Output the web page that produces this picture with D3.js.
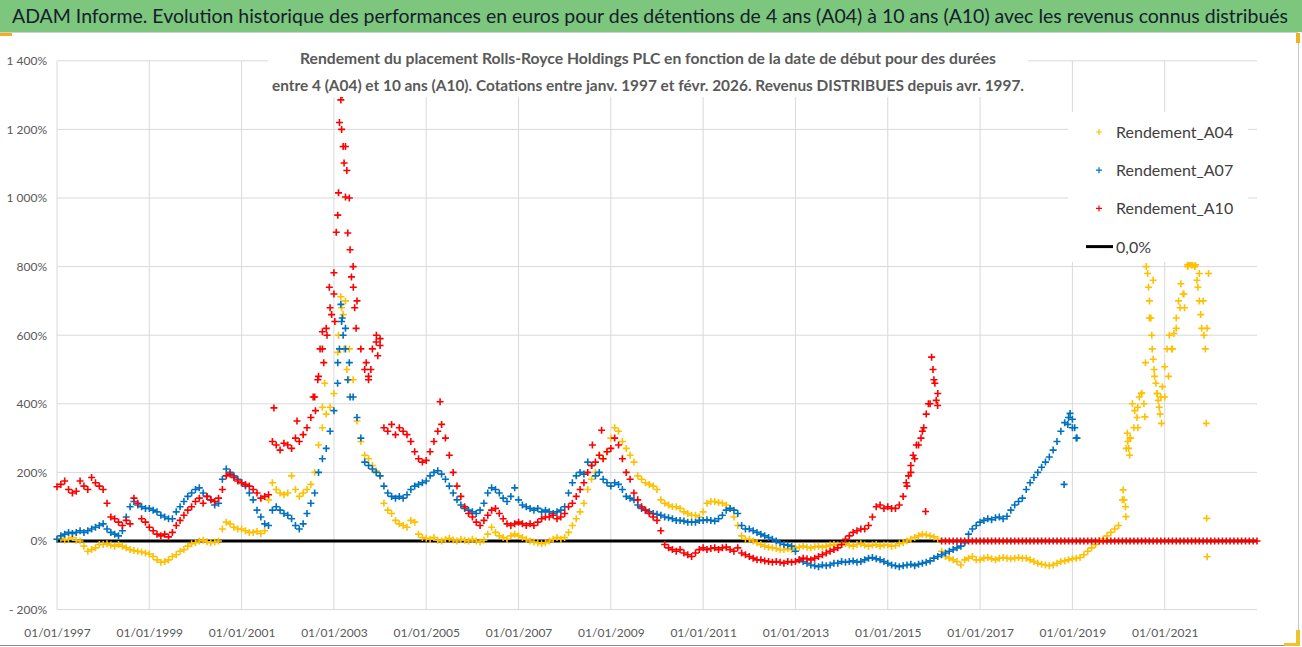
<!DOCTYPE html>
<html>
<head>
<meta charset="utf-8">
<script src="https://cdn.jsdelivr.net/npm/d3@7"></script>
<style>
  body { margin: 0; background: #fff; }
  text { font-family: Lato, "Open Sans", "DejaVu Sans", sans-serif; }
</style>
</head>
<body>
<div id="chart"></div>
<script>
// Monthly returns (%), first value = january 1997
const startYear = 1997;

const a04 = [
  5, 8, 3, 5, 10, 2, 0, -15, -30, -25, -20, -10,            // 1997
  -10, -8, -12, -15, -10, -15, -20, -25, -28, -30, -32, -35, // 1998
  -38, -45, -55, -62, -60, -55, -45, -40, -30, -25, -15, -8, // 1999
  -5, 0, 2, -2, -5, -3, 0, 35, 55, 50, 40, 35,               // 2000
  35, 30, 25, 25, 28, 22, 30, 120, 170, 150, 140, 135,       // 2001
  140, 190, 150, 130, 140, 150, 165, 200, 280, 330, 370, 390, // 2002
  430, 550, 680, 700, 560, 470, 350, 290, 250, 240, 220, 205, // 2003
  190, 110, 90, 80, 60, 50, 45, 40, 60, 55, 20, 10,          // 2004
  8, 5, 10, 2, 0, 5, 8, 3, 0, 5, 2, 0,                       // 2005
  5, 0, -3, 2, 20, 40, 25, 15, 10, 5, 15, 20,                // 2006
  15, 10, 5, 0, -3, -5, -8, -5, 0, 5, 10, 5,                 // 2007
  10, 25, 45, 65, 85, 110, 150, 180, 200, 250, 240, 260,     // 2008
  300, 330, 320, 290, 270, 250, 230, 190, 180, 170, 165, 160, // 2009
  150, 120, 110, 105, 100, 100, 95, 85, 80, 75, 75, 70,      // 2010
  85, 110, 115, 115, 112, 110, 105, 95, 70, 45, 15, 5,       // 2011
  5, 0, -5, -10, -15, -18, -20, -22, -25, -25, -22, -25,     // 2012
  -20, -18, -15, -18, -20, -17, -15, -18, -15, -12, -10, -12, // 2013
  -10, -8, -12, -15, -10, -8, -12, -15, -12, -10, -15, -12,  // 2014
  -12, -15, -13, -8, -5, 0, 5, 10, 15, 20, 18, 15,           // 2015
  12, 5, -30, -45, -50, -55, -60, -70, -55, -50, -45, -55,   // 2016
  -55, -50, -48, -52, -55, -50, -48, -50, -52, -50, -48, -50, // 2017
  -50, -55, -60, -65, -68, -70, -72, -70, -65, -60, -58, -55, // 2018
  -52, -50, -48, -40, -30, -20, -10, 0, 5, 15, 25, 35,       // 2019
  45, 120, 270, 300, 330, 390, 430, 520, 650, 760, 430, 420, // 2020
  420, 480, 560, 620, 680, 720, 800, 805, 805, 780, 700, 620 // 2021
];

const a07 = [
  5, 15, 20, 25, 22, 25, 30, 25, 30, 35, 40, 45,             // 1997
  50, 35, 25, 20, 15, 30, 70, 100, 115, 105, 100, 95,        // 1998
  95, 90, 85, 75, 70, 65, 65, 85, 100, 115, 130, 140,        // 1999
  150, 155, 140, 130, 120, 105, 110, 180, 210, 200, 190, 180, // 2000
  170, 160, 140, 120, 90, 70, 50, 45, 90, 100, 90, 80,       // 2001
  75, 65, 45, 35, 50, 80, 110, 140, 200, 240, 270, 320,      // 2002
  380, 520, 640, 620, 520, 420, 360, 300, 230, 220, 210, 200, // 2003
  190, 160, 140, 130, 125, 130, 125, 135, 150, 160, 165, 170, // 2004
  175, 190, 200, 205, 195, 180, 160, 140, 120, 105, 95, 90,  // 2005
  85, 80, 90, 110, 140, 155, 150, 140, 125, 115, 130, 155,   // 2006
  120, 105, 100, 95, 90, 95, 85, 90, 85, 80, 85, 90,         // 2007
  100, 140, 170, 190, 200, 195, 230, 220, 190, 200, 180, 170, // 2008
  160, 170, 165, 150, 130, 125, 120, 105, 95, 90, 85, 80,    // 2009
  78, 75, 70, 68, 65, 60, 60, 58, 55, 55, 55, 60,            // 2010
  60, 62, 60, 58, 65, 75, 90, 95, 90, 80, 45, 35,            // 2011
  35, 30, 25, 20, 15, 10, 5, 0, -5, -10, -12, -15,           // 2012
  -30, -55, -60, -65, -70, -72, -75, -70, -72, -70, -65, -65, // 2013
  -60, -62, -60, -58, -62, -60, -55, -50, -48, -52, -55, -60, // 2014
  -65, -70, -72, -75, -72, -70, -68, -72, -68, -65, -62, -58, // 2015
  -50, -45, -40, -35, -30, -25, -20, -15, -5, 20, 35, 45,    // 2016
  55, 60, 65, 62, 68, 70, 65, 72, 90, 105, 115, 125,         // 2017
  150, 170, 185, 200, 215, 230, 245, 265, 290, 320, 345, 360, // 2018
  330, 300                                                   // 2019
];

const a10 = [
  158, 165, 175, 150, 140, 145, 175, 160, 150, 185, 170, 160, // 1997
  150, 110, 70, 65, 55, 45, 60, 50, 125, 110, 65, 55,         // 1998
  40, 30, 20, 15, 20, 12, 25, 45, 60, 75, 90, 100,            // 1999
  115, 125, 110, 130, 120, 115, 125, 150, 190, 195, 185, 175, // 2000
  170, 165, 160, 150, 140, 125, 130, 135, 290, 280, 265, 285, // 2001
  280, 270, 300, 290, 310, 330, 360, 420, 480, 560, 620, 680, // 2002
  720, 950, 1200, 1150, 1000, 800, 700, 560, 500, 480, 560, 580, // 2003
  570, 330, 320, 340, 310, 330, 320, 310, 290, 260, 240, 230, // 2004
  235, 260, 290, 320, 340, 300, 250, 200, 160, 130, 100, 80,  // 2005
  70, 55, 45, 60, 75, 90, 95, 80, 65, 50, 45, 50,             // 2006
  55, 50, 45, 50, 45, 55, 65, 70, 70, 75, 65, 70,             // 2007
  80, 100, 110, 130, 150, 170, 200, 220, 230, 250, 240, 260,  // 2008
  270, 300, 280, 240, 200, 180, 140, 120, 100, 90, 80, 70,    // 2009
  60, 30, -10, -20, -25, -30, -25, -35, -40, -45, -35, -25,   // 2010
  -20, -25, -22, -20, -25, -20, -18, -25, -30, -20, -35, -40, // 2011
  -45, -50, -55, -55, -58, -60, -62, -60, -62, -65, -60, -62, // 2012
  -60, -55, -50, -52, -55, -50, -45, -40, -35, -30, -25, -20, // 2013
  -10, 5, 15, 25, 30, 35, 35, 45, 70, 100, 105, 95,           // 2014
  100, 95, 95, 105, 130, 160, 200, 240, 280, 320, 370, 400,   // 2015
  470, 430, 0, 0, 0, 0, 0, 0, 0, 0, 0, 0,                     // 2016
  0, 0, 0, 0, 0, 0, 0, 0, 0, 0, 0, 0,                         // 2017
  0, 0, 0, 0, 0, 0, 0, 0, 0, 0, 0, 0,                         // 2018
  0, 0, 0, 0, 0, 0, 0, 0, 0, 0, 0, 0,                         // 2019
  0, 0, 0, 0, 0, 0, 0, 0, 0, 0, 0, 0,                         // 2020
  0, 0, 0, 0, 0, 0, 0, 0, 0, 0, 0, 0,                         // 2021
  0, 0, 0, 0, 0, 0, 0, 0, 0, 0, 0, 0,                         // 2022
  0                                                           // 2023
];

// scattered points of the spikes, [year, value]
const a04Extra = [
  [2002.75, 390], [2002.8, 460], [2003.1, 600], [2003.15, 712], [2003.2, 660],
  [2003.22, 560], [2003.28, 500], [2003.32, 470],
  [2020.1, 149], [2020.12, 120], [2020.15, 100], [2020.16, 71], [2020.19, 314],
  [2020.2, 290], [2020.22, 270], [2020.24, 250], [2020.26, 300], [2020.3, 400],
  [2020.35, 380], [2020.4, 360], [2020.42, 330], [2020.45, 420], [2020.5, 431],
  [2020.55, 400], [2020.57, 362], [2020.6, 800], [2020.63, 780], [2020.65, 740],
  [2020.67, 700], [2020.7, 650], [2020.72, 600], [2020.73, 560], [2020.75, 530],
  [2020.77, 500], [2020.78, 480], [2020.81, 460], [2020.84, 430], [2020.86, 410],
  [2020.88, 390], [2020.9, 370], [2020.93, 343], [2020.95, 450], [2021.0, 508],
  [2021.05, 560], [2021.1, 600], [2021.15, 560], [2021.2, 605], [2021.25, 650],
  [2021.3, 700], [2021.35, 750], [2021.4, 720], [2021.43, 680], [2021.5, 805],
  [2021.55, 810], [2021.6, 805], [2021.65, 800], [2021.7, 760], [2021.72, 740],
  [2021.75, 700], [2021.78, 660], [2021.8, 620], [2021.85, 600], [2021.88, 560],
  [2021.9, 343], [2021.91, 66], [2021.92, -46], [2021.95, 780]
];

const a07Extra = [
  [2003.08, 460], [2003.12, 560], [2003.15, 690], [2003.18, 650], [2003.2, 600],
  [2003.25, 560], [2003.3, 470], [2003.35, 420],
  [2018.82, 165], [2018.9, 340], [2018.95, 372], [2019.0, 355], [2019.05, 330],
  [2019.1, 300]
];

const a10Extra = [
  [2001.7, 388], [2002.2, 350], [2002.55, 420], [2002.6, 380], [2002.65, 470],
  [2002.7, 560], [2002.75, 610], [2002.78, 520], [2002.85, 600], [2002.9, 740],
  [2002.95, 660], [2003.0, 782], [2003.02, 640], [2003.05, 900], [2003.1, 1015],
  [2003.12, 1220], [2003.15, 1286], [2003.18, 1300], [2003.2, 1150], [2003.22, 1102],
  [2003.25, 1003], [2003.28, 1080], [2003.3, 898], [2003.35, 849], [2003.38, 770],
  [2003.42, 740], [2003.45, 680], [2003.48, 620], [2003.7, 520], [2003.75, 470],
  [2003.8, 500], [2003.92, 600], [2003.95, 540], [2004.0, 590], [2005.3, 406],
  [2008.6, 280], [2008.8, 323],
  [2015.4, 170], [2015.45, 190], [2015.5, 220], [2015.55, 250], [2015.62, 280],
  [2015.72, 300], [2015.78, 330], [2015.82, 86], [2015.88, 400], [2015.95, 536],
  [2015.98, 500], [2016.02, 460], [2016.05, 410], [2016.08, 395]
];

const seriesNames = ["Rendement_A04", "Rendement_A07", "Rendement_A10"];
const seriesColors = ["#FFC000", "#0070C0", "#FF0000"];
const xTickYears = [1997, 1999, 2001, 2003, 2005, 2007, 2009, 2011, 2013, 2015, 2017, 2019, 2021];
const yTickValues = [-200, 0, 200, 400, 600, 800, 1000, 1200, 1400];

const titleText = "ADAM Informe. Evolution historique des performances en euros pour des détentions de 4 ans (A04) à 10 ans (A10) avec les revenus connus distribués";
const subtitleLines = [
  "Rendement du placement Rolls-Royce Holdings PLC en fonction de la date de début pour des durées",
  "entre 4 (A04) et 10 ans (A10).  Cotations entre janv. 1997 et févr. 2026. Revenus DISTRIBUES depuis avr. 1997."
];

const svgWidth = 1302;
const svgHeight = 647;

const plot = { left: 57, right: 1257, top: 60.8, bottom: 609.6 };

const svg = d3.select("#chart")
  .append("svg")
  .attr("width", svgWidth)
  .attr("height", svgHeight);

// frame and title bar
svg.append("rect").attr("width", svgWidth).attr("height", svgHeight).attr("fill", "#fff");
svg.append("rect")
  .attr("x", 0).attr("y", 0).attr("width", svgWidth).attr("height", 32)
  .attr("fill", "#7cc67e");
svg.append("line")
  .attr("x1", 0).attr("x2", 1298).attr("y1", 32.5).attr("y2", 32.5)
  .attr("stroke", "#d0d0d0");
svg.append("line")
  .attr("x1", 1298.5).attr("x2", 1298.5).attr("y1", 33).attr("y2", 646)
  .attr("stroke", "#c8c8c8");
svg.append("line")
  .attr("x1", 0).attr("x2", 1299).attr("y1", 645.5).attr("y2", 645.5)
  .attr("stroke", "#8a8a8a");
svg.append("rect").attr("x", 0).attr("y", 33).attr("width", 12).attr("height", 3).attr("fill", "#f2b01e");
svg.append("rect").attr("x", 1296).attr("y", 33).attr("width", 4).attr("height", 10).attr("fill", "#f2b01e");
svg.append("rect").attr("x", 1296).attr("y", 630).attr("width", 4).attr("height", 15).attr("fill", "#f2c12e");
svg.append("rect").attr("x", 1284).attr("y", 643).attr("width", 16).attr("height", 3).attr("fill", "#f2c12e");

svg.append("text")
  .attr("x", 12).attr("y", 23)
  .attr("textLength", 1276)
  .attr("lengthAdjust", "spacingAndGlyphs")
  .attr("font-size", 19)
  .attr("fill", "#15202b")
  .text(titleText);

// scales
const xScale = d3.scaleLinear()
  .domain([1997, 2023])
  .range([plot.left, plot.right]);

const yScale = d3.scaleLinear()
  .domain([-200, 1400])
  .range([plot.bottom, plot.top]);

// gridlines
const grid = svg.append("g");
grid.selectAll("line.h")
  .data(yTickValues)
  .join("line")
  .attr("x1", plot.left).attr("x2", plot.right)
  .attr("y1", d => yScale(d)).attr("y2", d => yScale(d))
  .attr("stroke", "#d9d9d9");
grid.selectAll("line.v")
  .data(xTickYears)
  .join("line")
  .attr("x1", d => xScale(d)).attr("x2", d => xScale(d))
  .attr("y1", plot.top).attr("y2", plot.bottom)
  .attr("stroke", "#d9d9d9");

// axes
const frLocale = d3.formatLocale({ decimal: ",", thousands: "\u00a0", grouping: [3], currency: ["", " €"] });
const fmt = frLocale.format(",d");

const leftAxis = d3.axisLeft(yScale)
  .tickValues(yTickValues)
  .tickSize(0)
  .tickPadding(10)
  .tickFormat(d => d < 0 ? "- " + fmt(-d) + "%" : fmt(d) + "%");

const bottomAxis = d3.axisBottom(xScale)
  .tickValues(xTickYears)
  .tickSize(0)
  .tickPadding(19)
  .tickFormat(d => "01/01/" + d);

const yAxisG = svg.append("g")
  .attr("transform", `translate(${plot.left}, 0)`)
  .call(leftAxis);
const xAxisG = svg.append("g")
  .attr("transform", `translate(0, ${plot.bottom})`)
  .call(bottomAxis);

[yAxisG, xAxisG].forEach(g => {
  g.select(".domain").remove();
  g.selectAll("text")
    .attr("font-family", null)
    .attr("font-size", 12)
    .attr("fill", "#595959");
});

// zero line
svg.append("line")
  .attr("x1", xScale(1997)).attr("x2", xScale(2023))
  .attr("y1", yScale(0)).attr("y2", yScale(0))
  .attr("stroke", "#000")
  .attr("stroke-width", 3);

// point series
const toPoints = (values, extra) =>
  values.map((v, i) => ({ x: startYear + i / 12, y: v }))
    .concat(extra.map(([x, y]) => ({ x: x, y: y })));

const allSeries = [toPoints(a04, a04Extra), toPoints(a07, a07Extra), toPoints(a10, a10Extra)];
const plusPath = "M-3.5,0H3.5M0,-3.5V3.5";

allSeries.forEach((points, k) => {
  svg.append("g")
    .selectAll("path")
    .data(points)
    .join("path")
    .attr("d", plusPath)
    .attr("transform", d => `translate(${xScale(d.x)}, ${yScale(d.y)})`)
    .attr("fill", "none")
    .attr("stroke", seriesColors[k])
    .attr("stroke-width", 1.6);
});

// subtitle box
svg.append("rect")
  .attr("x", 268).attr("y", 42).attr("width", 760).attr("height", 55)
  .attr("fill", "#fff");
svg.selectAll("text.sub")
  .data(subtitleLines)
  .join("text")
  .attr("class", "sub")
  .attr("x", (d, i) => i === 0 ? 300 : 272)
  .attr("y", (d, i) => 64 + i * 27)
  .attr("textLength", (d, i) => i === 0 ? 696 : 752)
  .attr("lengthAdjust", "spacingAndGlyphs")
  .attr("font-size", 16)
  .attr("font-weight", "bold")
  .attr("fill", "#595959")
  .text(d => d);

// legend
const legend = svg.append("g");
legend.append("rect")
  .attr("x", 1068).attr("y", 112).attr("width", 180).attr("height", 150)
  .attr("fill", "#fff");

const legendItems = legend.selectAll("g.item")
  .data(seriesNames.concat(["0,0%"]))
  .join("g")
  .attr("class", "item")
  .attr("transform", (d, i) => `translate(0, ${132 + i * 38.2})`);

legendItems.each(function (d, i) {
  const g = d3.select(this);
  if (i < 3) {
    g.append("path")
      .attr("d", "M-3,0H3M0,-3V3")
      .attr("transform", "translate(1099, 0)")
      .attr("stroke", seriesColors[i])
      .attr("stroke-width", 1.2);
  } else {
    g.append("line")
      .attr("x1", 1086).attr("x2", 1113)
      .attr("stroke", "#000").attr("stroke-width", 3);
  }
  g.append("text")
    .attr("x", 1116)
    .attr("y", 6)
    .attr("font-size", 16)
    .attr("fill", "#404040")
    .text(d);
});
</script>
</body>
</html>
